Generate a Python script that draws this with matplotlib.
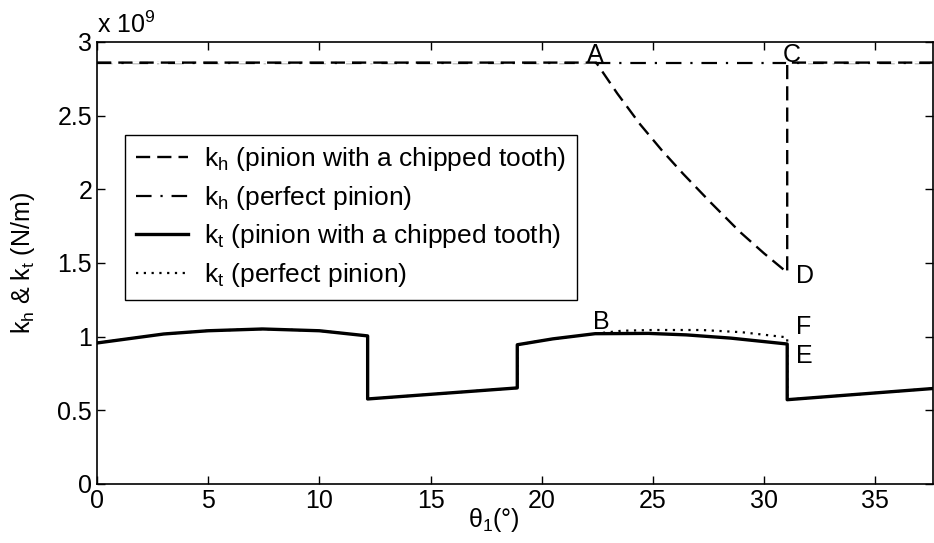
import numpy as np
import matplotlib.pyplot as plt

plt.rcParams['font.family'] = ['Liberation Sans', 'DejaVu Sans']
plt.rcParams['mathtext.fontset'] = 'custom'
plt.rcParams['mathtext.rm'] = 'Liberation Sans'
plt.rcParams['mathtext.it'] = 'Liberation Sans'

# mesh stiffness vs pinion angle theta_1 (deg), values in N/m
kh_chip_x = [0, 22.45, 23.4, 24.43, 25.4, 26.36, 27.6, 28.92, 30.0, 31.04, 31.04, 37.6]
kh_chip_y = [2.86e9, 2.86e9, 2.65e9, 2.44e9, 2.265e9, 2.105e9, 1.91e9, 1.71e9,
             1.565e9, 1.435e9, 2.86e9, 2.86e9]

kh_perf_x = [0, 37.6]
kh_perf_y = [2.86e9, 2.86e9]

kt_chip_x = [0, 3.0, 5.0, 7.45, 10.0, 12.17, 12.17, 18.9, 18.9, 20.5, 22.4, 24.8,
             26.5, 28.5, 31.04, 31.04, 37.6]
kt_chip_y = [0.957e9, 1.018e9, 1.04e9, 1.052e9, 1.04e9, 1.005e9, 0.577e9, 0.652e9,
             0.945e9, 0.985e9, 1.02e9, 1.022e9, 1.012e9, 0.99e9, 0.95e9, 0.572e9, 0.648e9]

kt_perf_x = [0, 3.0, 5.0, 7.45, 10.0, 12.17, 12.17, 18.9, 18.9, 20.5, 22.4, 23.6,
             25.0, 27.2, 29.0, 31.04, 31.04, 37.6]
kt_perf_y = [0.957e9, 1.018e9, 1.04e9, 1.052e9, 1.04e9, 1.005e9, 0.577e9, 0.652e9,
             0.945e9, 0.985e9, 1.02e9, 1.04e9, 1.045e9, 1.045e9, 1.03e9, 0.995e9,
             0.572e9, 0.648e9]

# labelled points: (letter, x, y)
points = [('A', 22.4, 2.91e9), ('C', 31.25, 2.91e9), ('D', 31.85, 1.41e9),
          ('B', 22.7, 1.10e9), ('F', 31.8, 1.066e9), ('E', 31.8, 0.87e9)]

fig = plt.figure(figsize=(9.34, 5.43), dpi=100)
ax = fig.add_axes([0.1039, 0.1087, 0.8951, 0.814])

fs = 18
ax.plot(kh_perf_x, kh_perf_y, color='black', lw=1.6, dashes=(7, 4, 1, 4),
        label=r'$\mathregular{k_h}$ (perfect pinion)', zorder=2)
ax.plot(kh_chip_x, kh_chip_y, color='black', lw=1.7, dashes=(6, 3),
        gapcolor='white', label=r'$\mathregular{k_h}$ (pinion with a chipped tooth)', zorder=3)
ax.plot(kt_perf_x, kt_perf_y, color='black', lw=1.6, linestyle=(0, (1, 2.5)),
        label=r'$\mathregular{k_t}$ (perfect pinion)', zorder=2)
ax.plot(kt_chip_x, kt_chip_y, color='black', lw=2.4,
        label=r'$\mathregular{k_t}$ (pinion with a chipped tooth)', zorder=4)

for name, px, py in points:
    ax.text(px, py, name, fontsize=fs, ha='center', va='center', zorder=5)

ax.set_xlim(0, 37.6)
ax.set_ylim(0, 3e9)
ax.set_xticks(np.arange(0, 36, 5))
ax.set_yticks(np.arange(0, 3.01e9, 0.5e9))
ax.set_yticklabels(['0', '0.5', '1', '1.5', '2', '2.5', '3'])
ax.tick_params(direction='in', top=True, right=True, labelsize=fs, length=6, width=1)
for s in ax.spines.values():
    s.set_linewidth(1.2)

ax.text(0.0, 1.01, r'x 10$^{\mathregular{9}}$', transform=ax.transAxes,
        fontsize=fs, ha='left', va='bottom')

ax.set_xlabel(r'$\mathregular{\theta_1}$(°)', fontsize=fs)
ax.xaxis.set_label_coords(0.475, -0.05)
ax.xaxis.label.set_va('top')
ax.set_ylabel(r'$\mathregular{k_h}$ & $\mathregular{k_t}$ (N/m)', fontsize=fs)
ax.yaxis.set_label_coords(-0.072, 0.5)

h, l = ax.get_legend_handles_labels()
order = [1, 0, 3, 2]
leg = ax.legend([h[i] for i in order], [l[i] for i in order], fontsize=19,
                loc='upper left', bbox_to_anchor=(0.0335, 0.79), borderaxespad=0,
                frameon=True, fancybox=False, edgecolor='black', framealpha=1,
                handlelength=2.0, handletextpad=0.6, labelspacing=0.4, borderpad=0.4)
leg.get_frame().set_linewidth(1.0)

fig.savefig('out.png', dpi=100)
